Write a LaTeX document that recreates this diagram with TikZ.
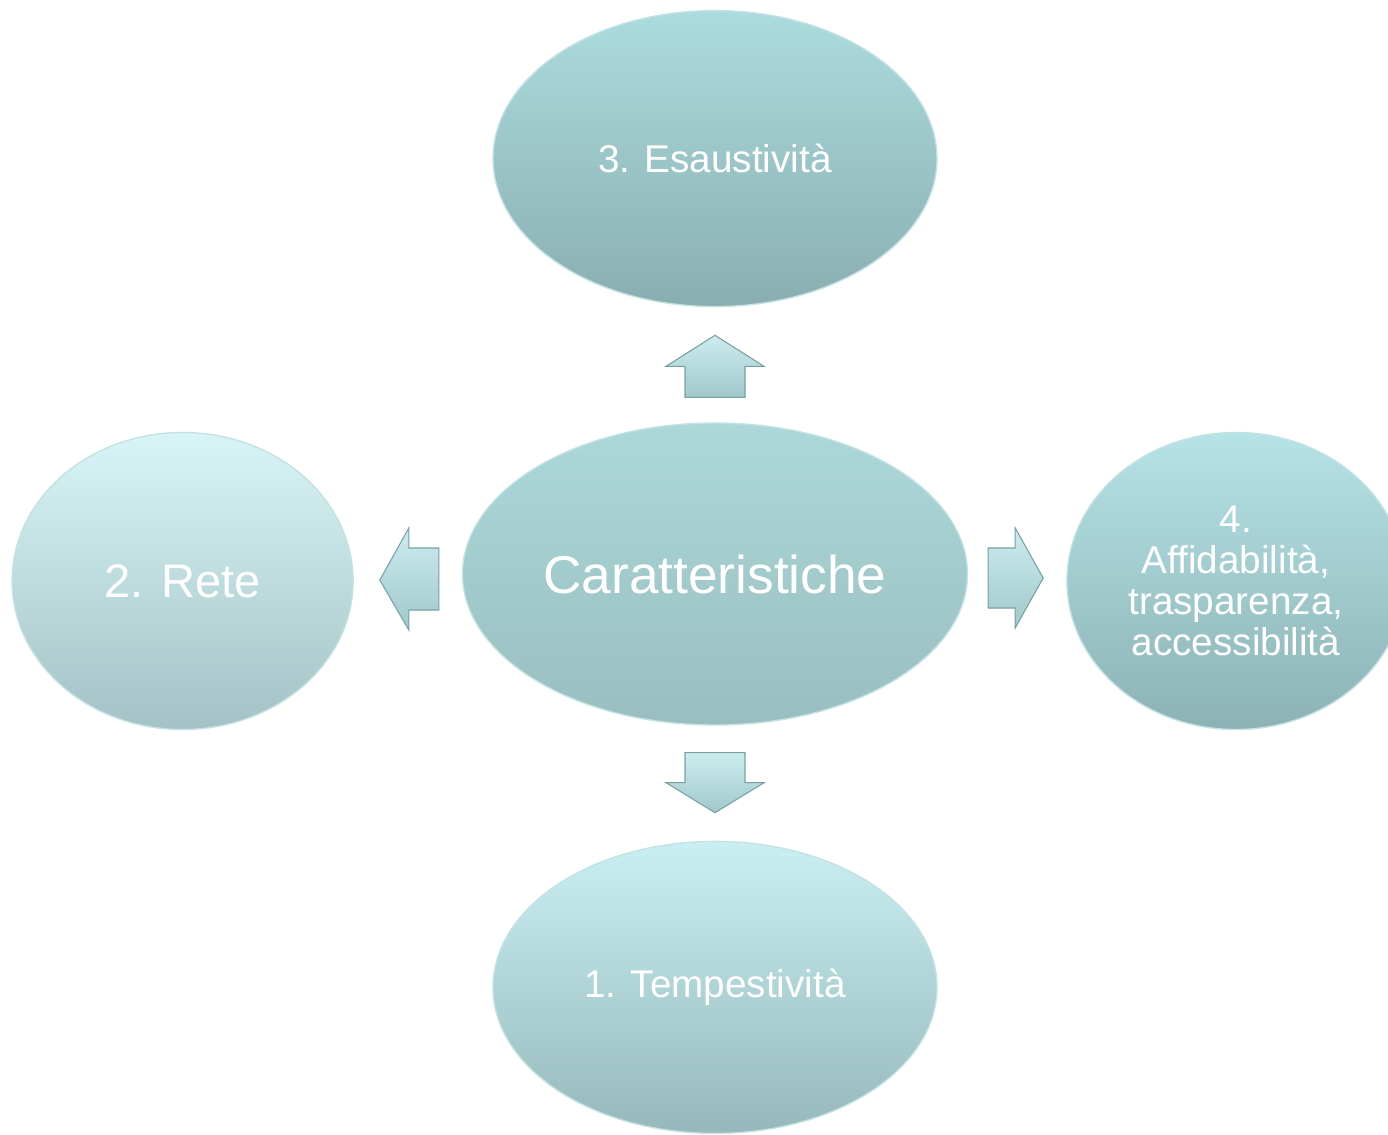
\documentclass[tikz,border=0pt]{standalone}
\usepackage{fontspec}
\setmainfont{Liberation Sans}
\usetikzlibrary{shapes.geometric, positioning}
\definecolor{edgelight}{RGB}{196,226,228}
\definecolor{arrowedge}{RGB}{120,160,162}
\definecolor{arrowtop}{RGB}{205,236,238}
\definecolor{arrowbottom}{RGB}{160,200,202}
\tikzset{
    bubble/.style={ellipse, draw=edgelight, line width=0.8pt, text=white, align=center, inner sep=0pt},
    blockarrow/.style={draw=arrowedge, line width=0.6pt, line join=miter, top color=arrowtop, bottom color=arrowbottom}
}

\begin{document}
\begin{tikzpicture}
    \useasboundingbox (0,0) rectangle (27.76,-22.68);
    \clip (0,0) rectangle (27.76,-22.68);
    % Central node
    \node[bubble, minimum width=10.1cm, minimum height=6.04cm, top color={rgb,255:red,172;green,216;blue,217}, bottom color={rgb,255:red,154;green,190;blue,191},
        font=\fontsize{30.3}{34}\selectfont] (cen) at (14.3,-11.48) {Caratteristiche};
    % Characteristics
    \node[bubble, minimum width=8.88cm, minimum height=5.92cm, top color={rgb,255:red,172;green,220;blue,222}, bottom color={rgb,255:red,138;green,174;blue,176},
        font=\fontsize{22}{24}\selectfont, above=2.3cm of cen] (esaus) {3. Esaustività};
    \node[bubble, minimum width=8.88cm, minimum height=5.84cm, top color={rgb,255:red,202;green,239;blue,242}, bottom color={rgb,255:red,150;green,184;blue,186},
        font=\fontsize{22}{24}\selectfont, below=2.3cm of cen] (tempe) {1. Tempestività};
    \node[bubble, minimum width=6.82cm, minimum height=5.94cm, top color={rgb,255:red,216;green,244;blue,247}, bottom color={rgb,255:red,164;green,194;blue,197},
        font=\fontsize{26.8}{30}\selectfont, left=2.16cm of cen, yshift=-0.14cm] (rete) {2. Rete};
    \node[bubble, minimum width=6.76cm, minimum height=5.94cm, top color={rgb,255:red,182;green,227;blue,230}, bottom color={rgb,255:red,140;green,178;blue,180},
        font=\fontsize{22}{23.3}\selectfont, right=1.96cm of cen, yshift=-0.14cm] (affid) {4.\\Affidabilità,\\trasparenza,\\accessibilità};
    % Block arrows
    \draw[blockarrow, shift={(cen.north)}] (-0.6,0.5) -- (-0.6,1.12) -- (-0.98,1.12) -- (0,1.74) -- (0.98,1.12) -- (0.6,1.12) -- (0.6,0.5) -- cycle;
    \draw[blockarrow, shift={(cen.south)}] (-0.6,-0.54) -- (-0.6,-1.14) -- (-0.98,-1.14) -- (0,-1.74) -- (0.98,-1.14) -- (0.6,-1.14) -- (0.6,-0.54) -- cycle;
    \draw[blockarrow, shift={(cen.west)}] (-0.46,-0.72) -- (-1.06,-0.72) -- (-1.06,-1.12) -- (-1.64,-0.12) -- (-1.06,0.92) -- (-1.06,0.52) -- (-0.46,0.52) -- cycle;
    \draw[blockarrow, shift={(cen.east)}] (0.4,-0.68) -- (0.94,-0.68) -- (0.94,-1.08) -- (1.5,-0.08) -- (0.94,0.92) -- (0.94,0.52) -- (0.4,0.52) -- cycle;
\end{tikzpicture}
\end{document}
